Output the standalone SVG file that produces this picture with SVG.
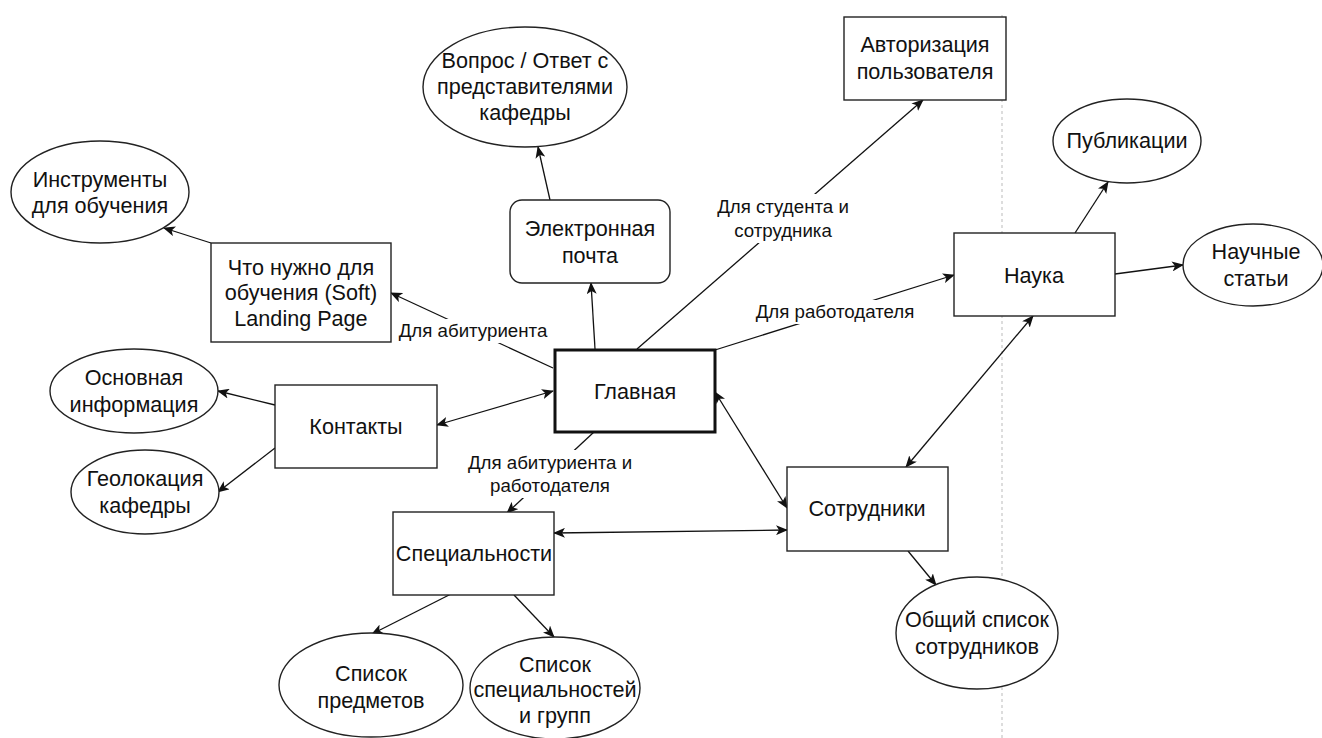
<svg xmlns="http://www.w3.org/2000/svg" width="1322" height="738" viewBox="0 0 1322 738">
<style>
.n{fill:#fff;stroke:#222;stroke-width:1.4}
.t{font-family:"Liberation Sans",Arial,sans-serif;font-size:21.6px;fill:#111;text-anchor:middle}
.e{fill:none;stroke:#111;stroke-width:1.3}
.l{font-family:"Liberation Sans",Arial,sans-serif;font-size:18.7px;fill:#111;text-anchor:middle}
.bg{fill:#fff;stroke:none}
</style>
<defs>
<marker id="a" viewBox="0 0 12 10" refX="11" refY="5" markerWidth="12" markerHeight="10" markerUnits="userSpaceOnUse" orient="auto-start-reverse">
<path d="M0,0 L12,5 L0,10 L3,5 Z" fill="#111"/>
</marker>
</defs>
<rect width="1322" height="738" fill="#fff"/>
<line x1="1002" y1="15" x2="1002" y2="738" stroke="#bbb" stroke-width="1" stroke-dasharray="3,3"/>
<g id="connectors">
<line class="e" x1="553" y1="368" x2="391" y2="293" marker-end="url(#a)"/>
<line class="e" x1="211" y1="243" x2="164" y2="228" marker-end="url(#a)"/>
<line class="e" x1="595" y1="349" x2="591" y2="283" marker-end="url(#a)"/>
<line class="e" x1="550" y1="200" x2="538" y2="147" marker-end="url(#a)"/>
<line class="e" x1="637" y1="349" x2="923" y2="100" marker-end="url(#a)"/>
<line class="e" x1="715" y1="350" x2="954" y2="275" marker-end="url(#a)"/>
<line class="e" x1="1075" y1="233" x2="1108" y2="182" marker-end="url(#a)"/>
<line class="e" x1="1115" y1="274" x2="1183" y2="265" marker-end="url(#a)"/>
<line class="e" x1="1033" y1="316" x2="906" y2="467" marker-start="url(#a)" marker-end="url(#a)"/>
<line class="e" x1="715" y1="392" x2="787" y2="508" marker-start="url(#a)" marker-end="url(#a)"/>
<line class="e" x1="553" y1="391" x2="437" y2="425" marker-start="url(#a)" marker-end="url(#a)"/>
<line class="e" x1="275" y1="405" x2="218" y2="391" marker-end="url(#a)"/>
<line class="e" x1="275" y1="448" x2="218" y2="492" marker-end="url(#a)"/>
<line class="e" x1="594" y1="432" x2="507" y2="513" marker-end="url(#a)"/>
<line class="e" x1="554" y1="533" x2="787" y2="530" marker-start="url(#a)" marker-end="url(#a)"/>
<line class="e" x1="451" y1="594" x2="372" y2="634" marker-end="url(#a)"/>
<line class="e" x1="514" y1="595" x2="554" y2="637" marker-end="url(#a)"/>
<line class="e" x1="908" y1="551" x2="936" y2="585" marker-end="url(#a)"/>
<rect class="bg" x="396" y="319" width="154" height="24"/>
<text class="l" x="473" y="337">Для абитуриента</text>
<rect class="bg" x="710" y="194" width="146" height="49"/>
<text class="l" x="783" y="213">Для студента и</text>
<text class="l" x="783" y="237">сотрудника</text>
<rect class="bg" x="752" y="300" width="166" height="24"/>
<text class="l" x="835" y="318">Для работодателя</text>
<rect class="bg" x="464" y="450" width="172" height="48"/>
<text class="l" x="550" y="469">Для абитуриента и</text>
<text class="l" x="550" y="492">работодателя</text>
</g>
<g id="n-instr"><ellipse class="n" cx="100" cy="192" rx="89" ry="51"/><text class="t" x="100" y="187">Инструменты</text><text class="t" x="100" y="213">для обучения</text></g>
<g id="n-what"><rect class="n" x="211" y="243" width="180" height="99"/><text class="t" x="301" y="275">Что нужно для</text><text class="t" x="301" y="300">обучения (Soft)</text><text class="t" x="301" y="326">Landing Page</text></g>
<g id="n-qa"><ellipse class="n" cx="525" cy="87" rx="102" ry="60"/><text class="t" x="525" y="68">Вопрос / Ответ с</text><text class="t" x="525" y="94">представителями</text><text class="t" x="525" y="120">кафедры</text></g>
<g id="n-email"><rect class="n" x="510" y="200" width="160" height="83" rx="12"/><text class="t" x="590" y="236">Электронная</text><text class="t" x="590" y="263">почта</text></g>
<g id="n-auth"><rect class="n" x="844" y="17" width="162" height="83"/><text class="t" x="925" y="52">Авторизация</text><text class="t" x="925" y="79">пользователя</text></g>
<g id="n-pub"><ellipse class="n" cx="1127" cy="141" rx="74" ry="42"/><text class="t" x="1127" y="148">Публикации</text></g>
<g id="n-science"><rect class="n" x="954" y="233" width="161" height="83"/><text class="t" x="1034" y="283">Наука</text></g>
<g id="n-articles"><ellipse class="n" cx="1253" cy="265" rx="70" ry="41"/><text class="t" x="1256" y="259">Научные</text><text class="t" x="1256" y="286">статьи</text></g>
<g id="n-info"><ellipse class="n" cx="134" cy="391" rx="84" ry="42"/><text class="t" x="134" y="385">Основная</text><text class="t" x="134" y="412">информация</text></g>
<g id="n-contacts"><rect class="n" x="275" y="385" width="162" height="83"/><text class="t" x="356" y="434">Контакты</text></g>
<g id="n-geo"><ellipse class="n" cx="145" cy="492" rx="74" ry="42"/><text class="t" x="145" y="486">Геолокация</text><text class="t" x="145" y="513">кафедры</text></g>
<g id="n-main"><rect x="555" y="350" width="160" height="82" fill="#fff" stroke="#111" stroke-width="3"/><text class="t" x="635" y="399">Главная</text></g>
<g id="n-spec"><rect class="n" x="393" y="512" width="161" height="83"/><text class="t" x="474" y="561">Специальности</text></g>
<g id="n-staff"><rect class="n" x="787" y="467" width="161" height="84"/><text class="t" x="867" y="516">Сотрудники</text></g>
<g id="n-stafflist"><ellipse class="n" cx="977" cy="633" rx="81" ry="56"/><text class="t" x="977" y="627">Общий список</text><text class="t" x="977" y="654">сотрудников</text></g>
<g id="n-subjects"><ellipse class="n" cx="371" cy="685" rx="92" ry="52"/><text class="t" x="371" y="681">Список</text><text class="t" x="371" y="708">предметов</text></g>
<g id="n-groups"><ellipse class="n" cx="555" cy="688" rx="85" ry="51"/><text class="t" x="555" y="672">Список</text><text class="t" x="555" y="697">специальностей</text><text class="t" x="555" y="723">и групп</text></g>
</svg>
